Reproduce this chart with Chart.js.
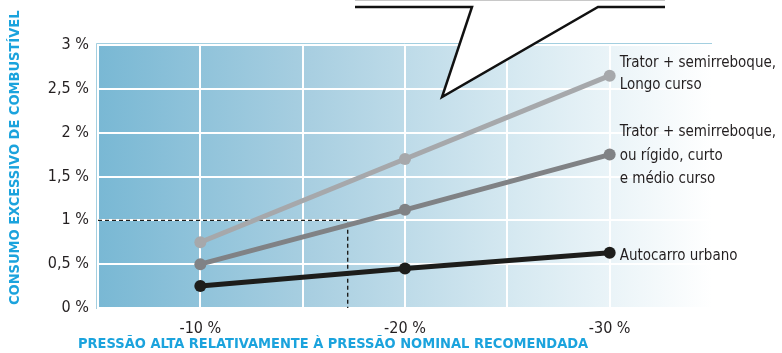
<!DOCTYPE html>
<html>
<head>
<meta charset="utf-8">
<script src="https://cdn.jsdelivr.net/npm/chart.js@4"></script>
<style>
  body { margin: 0; background: #fff; }
  #grafico { display: block; }
</style>
</head>
<body>
<canvas id="grafico" width="782" height="353"></canvas>
<script>
// valores
const pressao = [-10, -20, -30];
const longoCurso = [0.75, 1.70, 2.65];
const curtoMedio = [0.50, 1.12, 1.75];
const autocarro = [0.25, 0.45, 0.63];
const rotulos = [
    ['Trator + semirreboque,', 'Longo curso'],
    ['Trator + semirreboque,', 'ou rígido, curto', 'e médio curso'],
    ['Autocarro urbano']
];
// linha tracejada de referência (1 % a cerca de -17 %)
const referenciaX = -17.2;
const referenciaY = 1;

const fonte = "'Liberation Sans Narrow', 'DejaVu Sans Condensed', sans-serif";
const azulTitulo = '#1ba3dd';
const texto = '#231f20';

function pontos(valores) {
    return pressao.map((p, i) => ({ x: p, y: valores[i] }));
}

// fundo em degradê azul -> branco
const fundo = {
    id: 'fundo',
    beforeDraw(chart) {
        const { ctx, chartArea: a } = chart;
        const g = ctx.createLinearGradient(a.left, 0, a.right, 0);
        g.addColorStop(0, '#79b8d4');
        g.addColorStop(0.35, '#a9cfe1');
        g.addColorStop(0.68, '#d6e9f1');
        g.addColorStop(1, '#ffffff');
        ctx.save();
        ctx.fillStyle = g;
        ctx.fillRect(a.left, a.top, a.right - a.left, a.bottom - a.top);
        ctx.strokeStyle = 'rgba(140,195,216,0.8)';
        ctx.lineWidth = 1;
        ctx.beginPath();
        ctx.moveTo(a.left - 1.5, a.bottom + 1);
        ctx.lineTo(a.left - 1.5, a.top - 1.5);
        ctx.lineTo(a.right, a.top - 1.5);
        ctx.stroke();
        ctx.restore();
    }
};

// rótulos à direita, balão e títulos dos eixos
const extras = {
    id: 'extras',
    afterDraw(chart) {
        const { ctx } = chart;
        ctx.save();

        // rótulos das séries
        const desvios = [[-13, 9], [-22, 2, 25], [3]];
        ctx.fillStyle = texto;
        ctx.font = '15px ' + fonte;
        ctx.textAlign = 'left';
        ctx.textBaseline = 'middle';
        rotulos.forEach((linhas, d) => {
            const meta = chart.getDatasetMeta(d);
            const ult = meta.data[meta.data.length - 1];
            linhas.forEach((l, k) => ctx.fillText(l, ult.x + 10, ult.y + desvios[d][k]));
        });

        // balão (recorte)
        ctx.strokeStyle = '#c8c8c8';
        ctx.lineWidth = 1;
        ctx.beginPath();
        ctx.moveTo(355, 0.5);
        ctx.lineTo(665, 0.5);
        ctx.stroke();
        ctx.fillStyle = '#ffffff';
        ctx.beginPath();
        ctx.moveTo(472, 7);
        ctx.lineTo(442, 97);
        ctx.lineTo(598, 7);
        ctx.closePath();
        ctx.fill();
        ctx.strokeStyle = '#111';
        ctx.lineWidth = 2.5;
        ctx.lineJoin = 'miter';
        ctx.beginPath();
        ctx.moveTo(355, 7);
        ctx.lineTo(472, 7);
        ctx.lineTo(442, 97);
        ctx.lineTo(598, 7);
        ctx.lineTo(665, 7);
        ctx.stroke();

        // títulos dos eixos
        ctx.fillStyle = azulTitulo;
        ctx.font = 'bold 14.5px ' + fonte;
        ctx.textAlign = 'left';
        ctx.textBaseline = 'middle';
        ctx.fillText('PRESSÃO ALTA RELATIVAMENTE À PRESSÃO NOMINAL RECOMENDADA', 78, 344);
        ctx.translate(15, 305);
        ctx.rotate(-Math.PI / 2);
        ctx.fillText('CONSUMO EXCESSIVO DE COMBUSTÍVEL', 0, 0);
        ctx.restore();
    }
};

function serie(valores, cor) {
    return {
        data: pontos(valores),
        borderColor: cor,
        backgroundColor: cor,
        borderWidth: 5,
        pointRadius: 6,
        pointHoverRadius: 6,
        pointBorderWidth: 0
    };
}

new Chart(document.getElementById('grafico'), {
    type: 'line',
    data: {
        datasets: [
            serie(longoCurso, '#a6a8ab'),
            serie(curtoMedio, '#808285'),
            serie(autocarro, '#1d1d1b'),
            {
                data: [
                    { x: -5, y: referenciaY },
                    { x: referenciaX, y: referenciaY },
                    { x: referenciaX, y: 0 }
                ],
                borderColor: '#1d1d1b',
                borderWidth: 1.4,
                borderDash: [4, 3],
                pointRadius: 0,
                fill: false
            }
        ]
    },
    plugins: [fundo, extras],
    options: {
        responsive: false,
        animation: false,
        layout: { padding: { left: 0, right: 70, top: 45, bottom: 0 } },
        plugins: {
            legend: { display: false },
            tooltip: { enabled: false }
        },
        scales: {
            x: {
                type: 'linear',
                reverse: true,
                min: -35,
                max: -5,
                border: { display: false },
                grid: { color: '#ffffff', lineWidth: 2, drawTicks: false },
                ticks: {
                    stepSize: 5,
                    padding: 11,
                    color: texto,
                    font: { family: fonte, size: 16 },
                    callback: v => (v % 10 === 0 ? v + ' %' : '')
                },
                afterFit: s => { s.height = 45; }
            },
            y: {
                min: 0,
                max: 3,
                border: { display: false },
                grid: { color: '#ffffff', lineWidth: 2, drawTicks: false },
                ticks: {
                    stepSize: 0.5,
                    padding: 9,
                    color: texto,
                    font: { family: fonte, size: 16 },
                    callback: v => String(v).replace('.', ',') + ' %'
                },
                afterFit: s => { s.width = 98; }
            }
        }
    }
});
</script>
</body>
</html>
